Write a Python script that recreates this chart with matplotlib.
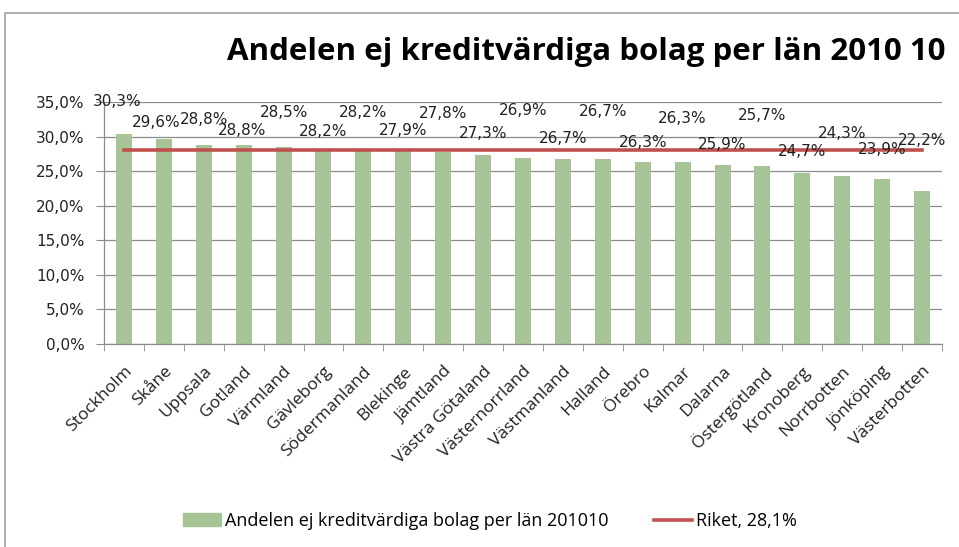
import matplotlib.pyplot as plt
from matplotlib.patches import Rectangle
from matplotlib.lines import Line2D
from matplotlib.ticker import FuncFormatter

counties = ["Stockholm", "Skåne", "Uppsala", "Gotland", "Värmland", "Gävleborg",
            "Södermanland", "Blekinge", "Jämtland", "Västra Götaland", "Västernorrland",
            "Västmanland", "Halland", "Örebro", "Kalmar", "Dalarna", "Östergötland",
            "Kronoberg", "Norrbotten", "Jönköping", "Västerbotten"]
shares = [30.3, 29.6, 28.8, 28.8, 28.5, 28.2, 28.2, 27.9, 27.8, 27.3, 26.9,
          26.7, 26.7, 26.3, 26.3, 25.9, 25.7, 24.7, 24.3, 23.9, 22.2]
riket = 28.1

# where excel put the data labels (y, in percent units)
label_y = [35.05, 32.0, 32.4, 30.85, 33.55, 30.7, 33.55, 30.85, 33.4, 30.5, 33.75,
           29.65, 33.6, 29.1, 32.55, 28.8, 33.0, 27.8, 30.5, 28.2, 29.5]
label_dx = [-0.18, -0.2, 0, -0.05, 0, 0, 0, 0, 0, 0, 0,
            0, 0, 0, 0, 0, 0, 0, 0, 0, 0]

bar_color = "#a6c496"
line_color = "#c0504d"
grid_color = "#8c8c8c"


def pct(v, pos=None):
    return ("%.1f%%" % v).replace(".", ",")


def main():
    plt.rcParams['font.family'] = ['Open Sans', 'DejaVu Sans']
    fig = plt.figure(figsize=(9.59, 5.47), dpi=100)

    # outer chart frame (cut off on the right)
    fig.patches.append(Rectangle((5 / 959, -0.1), 1.2, 1 - 13 / 547 + 0.1,
                                 transform=fig.transFigure, fill=False,
                                 edgecolor="#a0a0a0", linewidth=1.2))

    ax = fig.add_axes([104 / 959, 1 - 344 / 547, 838 / 959, 242 / 547])
    x = list(range(len(counties)))
    ax.bar(x, shares, width=0.4, color=bar_color, zorder=2)
    ax.plot(x, [riket] * len(x), color=line_color, linewidth=2.6, zorder=3)

    for i, v in enumerate(shares):
        ax.text(i + label_dx[i], label_y[i], pct(v), ha="center", va="center",
                fontsize=11, family="DejaVu Sans", color="#222222", zorder=4)

    ax.set_xlim(-0.5, len(counties) - 0.5)
    ax.set_ylim(0, 35)
    ax.set_yticks([0, 5, 10, 15, 20, 25, 30, 35])
    ax.yaxis.set_major_formatter(FuncFormatter(pct))
    ax.yaxis.grid(True, color=grid_color, linewidth=0.9, zorder=0)
    ax.set_axisbelow(True)
    for t in ax.get_yticklabels():
        t.set_family("DejaVu Sans")
        t.set_fontsize(11)
        t.set_color("#222222")

    ax.set_xticks(x)
    ax.set_xticklabels(counties, rotation=45, ha="right", rotation_mode="anchor",
                       fontsize=12.5, color="#222222")
    ax.set_xticks([i - 0.5 for i in range(len(counties) + 1)], minor=True)
    ax.tick_params(axis="x", which="major", length=0, pad=14)
    ax.tick_params(axis="x", which="minor", length=5, color=grid_color, direction="out")
    ax.tick_params(axis="y", length=6, color=grid_color, pad=8)

    for s in ["top", "right"]:
        ax.spines[s].set_visible(False)
    for s in ["left", "bottom"]:
        ax.spines[s].set_color(grid_color)
        ax.spines[s].set_linewidth(0.9)

    fig.text(227 / 959, 1 - 52 / 547, "Andelen ej kreditvärdiga bolag per län 2010 10",
             ha="left", va="center", fontsize=22.5, fontweight="bold", color="black")

    handles = [Rectangle((0, 0), 1, 1, color=bar_color),
               Line2D([0], [0], color=line_color, linewidth=2.6)]
    fig.legend(handles, ["Andelen ej kreditvärdiga bolag per län 201010", "Riket, 28,1%"],
               loc="center", bbox_to_anchor=(490 / 959, 1 - 521 / 547), ncol=2,
               frameon=False, fontsize=13, handlelength=2.1, columnspacing=2.5,
               handletextpad=0.25)

    plt.savefig("out.png", dpi=100)


if __name__ == "__main__":
    main()
